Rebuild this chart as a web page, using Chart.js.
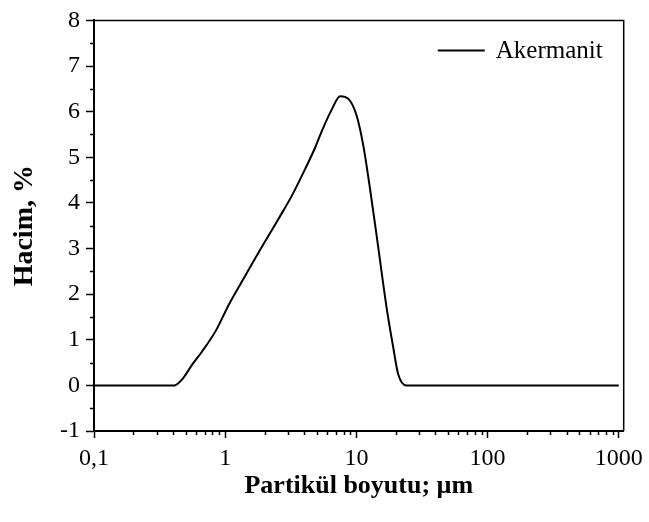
<!DOCTYPE html>
<html>
<head>
<meta charset="utf-8">
<script src="https://cdn.jsdelivr.net/npm/chart.js@4.4.1/dist/chart.umd.min.js"></script>
<style>
    html, body { margin: 0; padding: 0; background: #fff; }
    canvas { display: block; }
</style>
</head>
<body>
<canvas id="psdChart" width="649" height="522"></canvas>
<script>
// particle size (µm) and volume (%) for the Akermanit sample
const sizes = [0.1, 0.41, 0.475, 0.565, 0.673, 0.849, 1.07, 1.44, 1.81, 2.56, 3.24, 4.08, 4.86, 5.46, 6.5, 7.52, 8.69, 10.05, 11.3, 12.7, 14.7, 17.0, 19.1, 20.8, 24.0, 1000];
const volume = [0, 0, 0.15, 0.47, 0.76, 1.20, 1.78, 2.43, 2.93, 3.66, 4.17, 4.75, 5.22, 5.58, 6.05, 6.34, 6.28, 5.91, 5.25, 4.31, 3.01, 1.70, 0.83, 0.25, 0, 0];

const xTickValues = [0.1, 1, 10, 100, 1000];
const xTickLabels = ['0,1', '1', '10', '100', '1000'];
const xMinorTicks = [0.2, 0.3, 0.4, 0.5, 0.6, 0.7, 0.8, 0.9, 2, 3, 4, 5, 6, 7, 8, 9,
    20, 30, 40, 50, 60, 70, 80, 90, 200, 300, 400, 500, 600, 700, 800, 900];
const yMinorTicks = [-0.5, 0.5, 1.5, 2.5, 3.5, 4.5, 5.5, 6.5, 7.5];

const serif = 'Liberation Serif';

// top/right frame, short minor ticks and the legend in the upper right corner
const frameAndMinor = {
    id: 'frameAndMinor',
    afterDraw(chart) {
        const {ctx, chartArea: a, scales: {x, y}} = chart;
        ctx.save();
        ctx.strokeStyle = '#000';
        ctx.lineWidth = 1.5;
        ctx.beginPath();
        ctx.moveTo(a.left, a.top);
        ctx.lineTo(a.right, a.top);
        ctx.lineTo(a.right, a.bottom);
        ctx.stroke();

        ctx.beginPath();
        xMinorTicks.forEach(v => {
            const px = Math.round(x.getPixelForValue(v)) + 0.5;
            ctx.moveTo(px, a.bottom);
            ctx.lineTo(px, a.bottom + 4);
        });
        yMinorTicks.forEach(v => {
            const py = Math.round(y.getPixelForValue(v)) + 0.5;
            ctx.moveTo(a.left, py);
            ctx.lineTo(a.left - 4, py);
        });
        ctx.stroke();

        const ds = chart.data.datasets[0];
        ctx.font = '25px "' + serif + '"';
        const textW = ctx.measureText(ds.label).width;
        const textX = a.right - 21 - textW;
        const lineY = a.top + 30;
        ctx.strokeStyle = ds.borderColor;
        ctx.lineWidth = ds.borderWidth;
        ctx.beginPath();
        ctx.moveTo(textX - 58, lineY);
        ctx.lineTo(textX - 11, lineY);
        ctx.stroke();
        ctx.fillStyle = '#000';
        ctx.textBaseline = 'alphabetic';
        ctx.fillText(ds.label, textX, lineY + 8);
        ctx.restore();
    }
};

const ctx = document.getElementById('psdChart').getContext('2d');

new Chart(ctx, {
    type: 'line',
    data: {
        datasets: [{
            label: 'Akermanit',
            data: sizes.map((s, i) => ({ x: s, y: volume[i] })),
            borderColor: '#000',
            backgroundColor: '#000',
            borderWidth: 2,
            pointRadius: 0,
            fill: false,
            cubicInterpolationMode: 'monotone'
        }]
    },
    options: {
        responsive: false,
        animation: false,
        devicePixelRatio: 1,
        layout: {
            padding: { top: 17, right: 23, left: 0, bottom: 0 }
        },
        plugins: {
            legend: { display: false },
            tooltip: { enabled: false }
        },
        scales: {
            x: {
                type: 'logarithmic',
                min: 0.1,
                max: 1090,
                afterBuildTicks: scale => {
                    scale.ticks = xTickValues.map(v => ({ value: v }));
                },
                afterFit: scale => { scale.height = 91; },
                ticks: {
                    autoSkip: false,
                    maxRotation: 0,
                    padding: 6,
                    color: '#000',
                    font: { family: serif, size: 24 },
                    callback: (value) => {
                        const i = xTickValues.indexOf(value);
                        return i >= 0 ? xTickLabels[i] : '';
                    }
                },
                grid: {
                    drawOnChartArea: false,
                    color: '#000',
                    tickLength: 7,
                    tickWidth: 1.5
                },
                border: { display: true, color: '#000', width: 2 },
                title: {
                    display: true,
                    text: 'Partikül boyutu; µm',
                    color: '#000',
                    font: { family: serif, size: 26, weight: 'bold' },
                    padding: { top: 0, bottom: 20 }
                }
            },
            y: {
                min: -1,
                max: 8,
                afterFit: scale => { scale.width = 94; },
                ticks: {
                    stepSize: 1,
                    padding: 6,
                    color: '#000',
                    font: { family: serif, size: 24 }
                },
                grid: {
                    drawOnChartArea: false,
                    color: '#000',
                    tickLength: 8,
                    tickWidth: 1.5
                },
                border: { display: true, color: '#000', width: 2 },
                title: {
                    display: true,
                    text: 'Hacim, %',
                    color: '#000',
                    font: { family: serif, size: 28, weight: 'bold' },
                    padding: { top: 8, bottom: 0 }
                }
            }
        }
    },
    plugins: [frameAndMinor]
});
</script>
</body>
</html>
